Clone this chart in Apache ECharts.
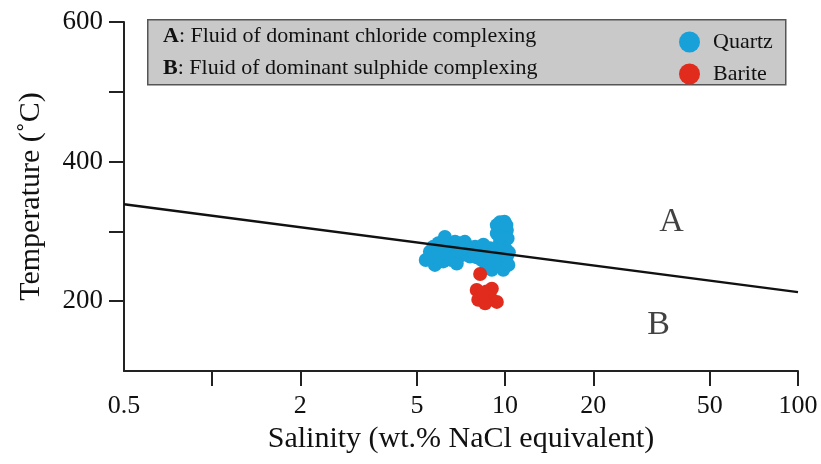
<!DOCTYPE html>
<html>
<head>
<meta charset="utf-8">
<script src="https://cdn.jsdelivr.net/npm/echarts@6/dist/echarts.min.js"></script>
<style>html,body{margin:0;padding:0;background:#fff}#c{width:821px;height:464px}</style>
</head>
<body>
<div id="c"></div>
<script>
// Quartz inclusions: [salinity wt.% NaCl eq, temperature °C]
var quartz = [
  [5.36,259],[5.54,271],[5.76,252],[6.0,264],[6.23,292],[6.32,276],[6.57,259],
  [6.75,285],[7.01,283],[7.29,285],[7.11,266],[7.49,278],[7.59,264],[6.84,254],
  [6.15,257],[7.90,278],[8.1,271],[8.33,259],[8.65,249],[9.01,245],[9.37,252],
  [9.75,259],[10.14,264],[8.89,276],[8.43,281],[9.49,273],[10.0,276],[9.61,285],
  [10.0,290],[9.37,297],[9.75,302],[9.37,309],[9.95,314],[10.14,302],[9.86,245],
  [5.69,278],[5.92,283],[10.26,252],
  [5.5,262],[5.9,268],[6.4,268],[6.6,281],[7.2,275],[8.0,263],[8.6,266],
  [9.2,262],[9.6,266],[9.9,282],[10.2,290],[9.6,292],[10.1,309],[9.6,313],
  [6.1,285],[6.9,272],[7.8,270],[8.3,270],[9.2,254],[10.3,270]
];
// Barite inclusions
var barite = [
  [8.22,239],[8.0,216],[8.33,204],[8.65,214],[9.01,218],[8.89,206],[9.37,199],
  [8.1,202],[8.55,197],[8.4,212]
];
// Boundary line between field A and field B
var boundary = [[0.5,339],[100,213]];
// Field labels
var fieldLabels = [[37,314,'A'],[33.4,166,'B']];
var xTicks = [1,2,5,10,20,50,100];
var xLabels = [0.5,2,5,10,20,50,100];
var yTicks = [200,300,400,500,600];
var yLabels = [200,400,600];
var boxLines = [['A','Fluid of dominant chloride complexing'],['B','Fluid of dominant sulphide complexing']];

var FONT = 'Liberation Serif';
var INK = '#111';
var chart = echarts.init(document.getElementById('c'));
var graphics = [{
  type:'rect', left:147, top:19, z:0,
  shape:{width:638, height:65},
  style:{fill:'#c9c9c9', stroke:'#555', lineWidth:1.5}
}];
boxLines.forEach(function(l,i){
  graphics.push({
    type:'text', left:163, top:25 + i*32, z:1,
    style:{text:'{b|'+l[0]+'}: '+l[1], font:'22px "Liberation Serif"', fill:INK,
      rich:{b:{fontWeight:'bold', fontSize:22, fontFamily:FONT, fill:INK}}}
  });
});
chart.setOption({
  animation:false,
  textStyle:{fontFamily:FONT},
  grid:{left:124, right:23, top:22, bottom:93},
  graphic:graphics,
  legend:{
    orient:'vertical', left:674, top:26, itemWidth:21, itemHeight:21, itemGap:10,
    icon:'circle', textStyle:{fontFamily:FONT, fontSize:22, color:INK, padding:[0,0,0,8]},
    data:['Quartz','Barite'], z:5
  },
  xAxis:{
    type:'log', logBase:10, min:0.5, max:100,
    name:'Salinity (wt.% NaCl equivalent)', nameLocation:'middle', nameGap:50,
    nameTextStyle:{fontFamily:FONT, fontSize:30, color:INK},
    axisLine:{lineStyle:{color:'#222', width:2}},
    axisTick:{show:true, length:15, lineStyle:{color:'#222', width:2}, customValues:xTicks},
    axisLabel:{fontFamily:FONT, fontSize:26, color:INK, margin:22, customValues:xLabels},
    splitLine:{show:false}, minorTick:{show:false}
  },
  yAxis:{
    type:'value', min:100, max:600, interval:100,
    name:'Temperature (˚C)', nameLocation:'middle', nameGap:78,
    nameTextStyle:{fontFamily:FONT, fontSize:30, color:INK},
    axisLine:{show:true, lineStyle:{color:'#222', width:2}},
    axisTick:{show:true, length:15, lineStyle:{color:'#222', width:2}, customValues:yTicks},
    axisLabel:{fontFamily:FONT, fontSize:27, color:INK, margin:21, customValues:yLabels},
    splitLine:{show:false}
  },
  series:[
    {name:'Quartz', type:'scatter', data:quartz, symbolSize:14, itemStyle:{color:'#17a1d8', opacity:1}, z:2},
    {name:'Barite', type:'scatter', data:barite, symbolSize:14, itemStyle:{color:'#e02b1d', opacity:1}, z:2},
    {name:'boundary', type:'line', data:boundary, showSymbol:false, symbol:'none',
      lineStyle:{color:'#111', width:2.5}, z:3, silent:true},
    {name:'fields', type:'scatter', data:fieldLabels, symbolSize:0, silent:true, z:4,
      label:{show:true, position:'inside', formatter:function(p){return p.value[2];},
        fontFamily:FONT, fontSize:34, color:INK}}
  ]
});
</script>
</body>
</html>
